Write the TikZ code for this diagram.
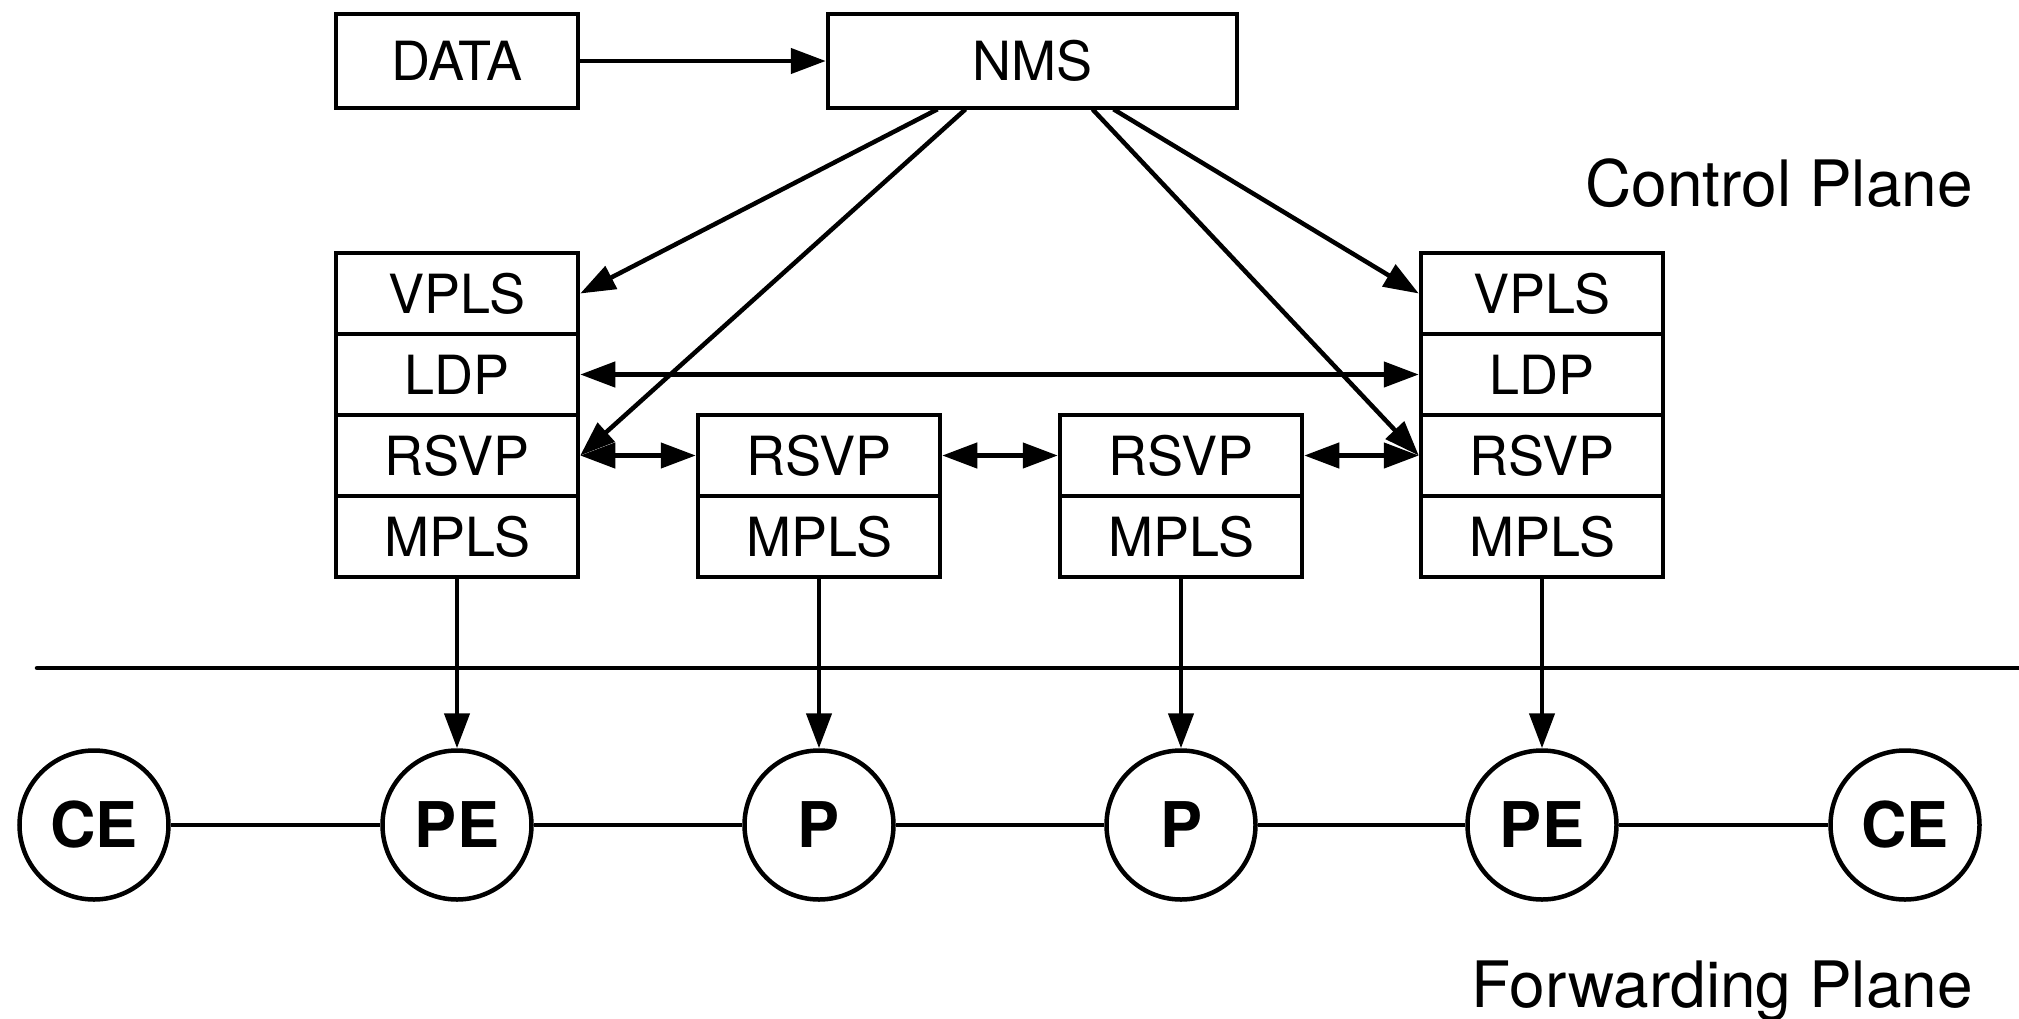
\documentclass[tikz,border=0pt]{standalone}
\usepackage{fontspec}
\setmainfont{TeX Gyre Heros}
\usetikzlibrary{arrows.meta,calc}

\tikzset{
  layer/.style={draw, line width=4.5pt, minimum width=242pt, minimum height=81pt,
    inner sep=0pt, font=\fontsize{54}{60}\selectfont},
  topbox/.style={layer, minimum height=94pt},
  router/.style={circle, draw, line width=4.5pt, minimum size=149pt, inner sep=0pt,
    font=\fontsize{63}{70}\selectfont\bfseries},
  plane/.style={inner sep=0pt, font=\fontsize{64}{72}\selectfont},
  link/.style={line width=4.5pt},
  ctl/.style={line width=4.5pt, -{Triangle[length=35pt,width=25pt]}},
  peer/.style={line width=4.5pt, {Triangle[length=35pt,width=25pt]}-{Triangle[length=35pt,width=25pt]}},
}

\begin{document}
\begin{tikzpicture}[x=1pt, y=-1pt]
  \useasboundingbox (0,0) rectangle (2019,1018);

  % management layer
  \node[topbox] (data) at (457,61) {DATA};
  \node[topbox, minimum width=409pt] (nms) at (1032.5,61) {NMS};

  % protocol stacks of the PE routers
  \node[layer] (lvpls) at (457,293.5) {VPLS};
  \node[layer] (lldp)  at (457,374.5) {LDP};
  \node[layer] (lrsvp) at (457,455.5) {RSVP};
  \node[layer] (lmpls) at (457,536.5) {MPLS};

  \node[layer] (rvpls) at (1542,293.5) {VPLS};
  \node[layer] (rldp)  at (1542,374.5) {LDP};
  \node[layer] (rrsvp) at (1542,455.5) {RSVP};
  \node[layer] (rmpls) at (1542,536.5) {MPLS};

  % protocol stacks of the P routers
  \node[layer] (arsvp) at (819,455.5) {RSVP};
  \node[layer] (ampls) at (819,536.5) {MPLS};
  \node[layer] (brsvp) at (1181,455.5) {RSVP};
  \node[layer] (bmpls) at (1181,536.5) {MPLS};

  % forwarding plane routers
  \node[router] (ce1) at (94,825)   {CE};
  \node[router] (pe1) at (457,825)  {PE};
  \node[router] (p1)  at (819,825)  {P};
  \node[router] (p2)  at (1181,825) {P};
  \node[router] (pe2) at (1542,825) {PE};
  \node[router] (ce2) at (1905,825) {CE};

  % plane separator and labels
  \coordinate (sepl) at (37,668);
  \coordinate (sepr) at (2019,668);
  \draw[link, line cap=round] (sepl) -- (sepr);
  \node[plane, anchor=base east] (cplane) at (1973,206) {Control Plane};
  \node[plane, anchor=base east] (fplane) at (1973,1007) {Forwarding Plane};

  % NMS configuration arrows
  \coordinate (n1) at ($(nms.south)+(-95,-1)$);
  \coordinate (n2) at ($(nms.south)+(-67,-1)$);
  \coordinate (n3) at ($(nms.south)+(60,-1)$);
  \coordinate (n4) at ($(nms.south)+(81,-1)$);
  \draw[ctl] (data) -- (nms);
  \draw[ctl] (n1) -- (lvpls.east);
  \draw[ctl] (n2) -- (lrsvp.east);
  \draw[ctl] (n3) -- (rrsvp.west);
  \draw[ctl] (n4) -- (rvpls.west);

  % signalling sessions
  \draw[peer] (lldp) -- (rldp);
  \draw[peer] (lrsvp) -- (arsvp);
  \draw[peer] (arsvp) -- (brsvp);
  \draw[peer] (brsvp) -- (rrsvp);

  % control to forwarding
  \draw[ctl] (lmpls) -- (pe1);
  \draw[ctl] (ampls) -- (p1);
  \draw[ctl] (bmpls) -- (p2);
  \draw[ctl] (rmpls) -- (pe2);

  % data path
  \draw[link] (ce1) -- (pe1) -- (p1) -- (p2) -- (pe2) -- (ce2);
\end{tikzpicture}
\end{document}
